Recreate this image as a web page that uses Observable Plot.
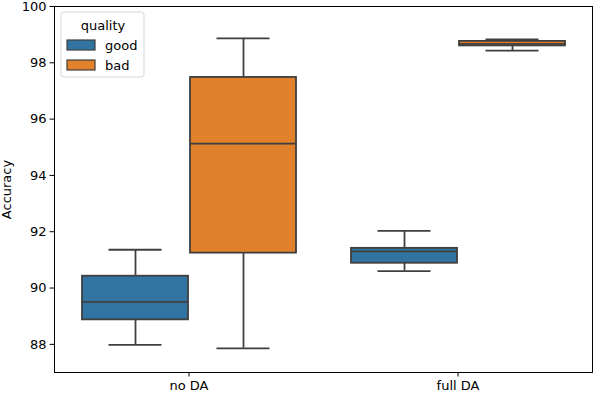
<!DOCTYPE html>
<html><head><meta charset="utf-8">
<script src="https://cdn.jsdelivr.net/npm/d3@7"></script>
<script src="https://cdn.jsdelivr.net/npm/@observablehq/plot@0.6"></script>
<style>body{margin:0;background:#fff} #chart svg{font-family:"DejaVu Sans",sans-serif}</style>
</head><body><div id="chart"></div>
<script>
const conditions = ["no DA", "full DA"];
const qualities = ["good", "bad"];
const colors = ["#3274a1", "#e1812c"];
const boxCondition = ["no DA", "no DA", "full DA", "full DA"];
const boxQuality = ["good", "bad", "good", "bad"];
const lowValues = [87.98, 87.86, 90.60, 98.43];
const q1Values = [88.87, 91.24, 90.88, 98.60];
const medianValues = [89.51, 95.13, 91.30, 98.67];
const q3Values = [90.42, 97.48, 91.41, 98.76];
const highValues = [91.36, 98.87, 92.03, 98.83];
const yTicks = [88, 90, 92, 94, 96, 98, 100];

const data = boxCondition.map((c, i) => ({
  condition: c, quality: boxQuality[i], low: lowValues[i], q1: q1Values[i],
  median: medianValues[i], q3: q3Values[i], high: highValues[i]
}));

const edge = "#3f3f3f";
const lw = 1.8;

const plot = Plot.plot({
  width: 594, height: 394,
  marginLeft: 54, marginRight: 2, marginTop: 6, marginBottom: 22,
  style: {fontSize: "13px", fontFamily: "DejaVu Sans", color: "#000", background: "#fff"},
  fx: {domain: conditions, padding: 0, axis: null},
  x: {domain: qualities, axis: null, paddingInner: 0.02, paddingOuter: 0, insetLeft: 27, insetRight: 27},
  y: {domain: [87, 100]},
  color: {domain: qualities, range: colors},
  marks: [
    Plot.ruleX(data, {fx: "condition", x: "quality", y1: "q3", y2: "high", stroke: edge, strokeWidth: lw}),
    Plot.ruleX(data, {fx: "condition", x: "quality", y1: "low", y2: "q1", stroke: edge, strokeWidth: lw}),
    Plot.rectY(data, {fx: "condition", x: "quality", y1: "q1", y2: "q3", fill: "quality", stroke: edge, strokeWidth: lw}),
    Plot.tickY(data, {fx: "condition", x: "quality", y: "median", stroke: edge, strokeWidth: lw}),
    Plot.tickY(data, {fx: "condition", x: "quality", y: "high", stroke: edge, strokeWidth: lw, insetLeft: 26.5, insetRight: 26.5}),
    Plot.tickY(data, {fx: "condition", x: "quality", y: "low", stroke: edge, strokeWidth: lw, insetLeft: 26.5, insetRight: 26.5}),
    Plot.axisY({ticks: yTicks, tickSize: 4.5, tickPadding: 3.5, label: "Accuracy", labelAnchor: "center", labelArrow: "none", labelOffset: 53, fontSize: 13}),
    Plot.axisFx({anchor: "bottom", tickSize: 4.5, tickPadding: 3.5, label: null, fontSize: 13}),
    Plot.frame({facet: "super", stroke: "#000", strokeWidth: 1})
  ]
});
document.getElementById("chart").appendChild(plot);

// legend (inside the axes, upper left)
const svg = d3.select(plot);
const lg = svg.append("g").attr("transform", "translate(61,12)")
  .style("font-family", "DejaVu Sans").style("font-size", "13px");
lg.append("rect").attr("width", 83).attr("height", 65).attr("rx", 3)
  .attr("fill", "#fff").attr("fill-opacity", 0.8).attr("stroke", "#d6d6d6").attr("stroke-width", 1);
lg.append("text").attr("x", 42).attr("y", 18).attr("text-anchor", "middle").attr("fill", "#000").text("quality");
qualities.forEach((q, i) => {
  lg.append("rect").attr("x", 6).attr("y", 28 + i * 20).attr("width", 28).attr("height", 10)
    .attr("fill", colors[i]).attr("stroke", edge).attr("stroke-width", 1.2);
  lg.append("text").attr("x", 44).attr("y", 38 + i * 20).attr("text-anchor", "start").attr("fill", "#000").text(q);
});
</script>
</body></html>
